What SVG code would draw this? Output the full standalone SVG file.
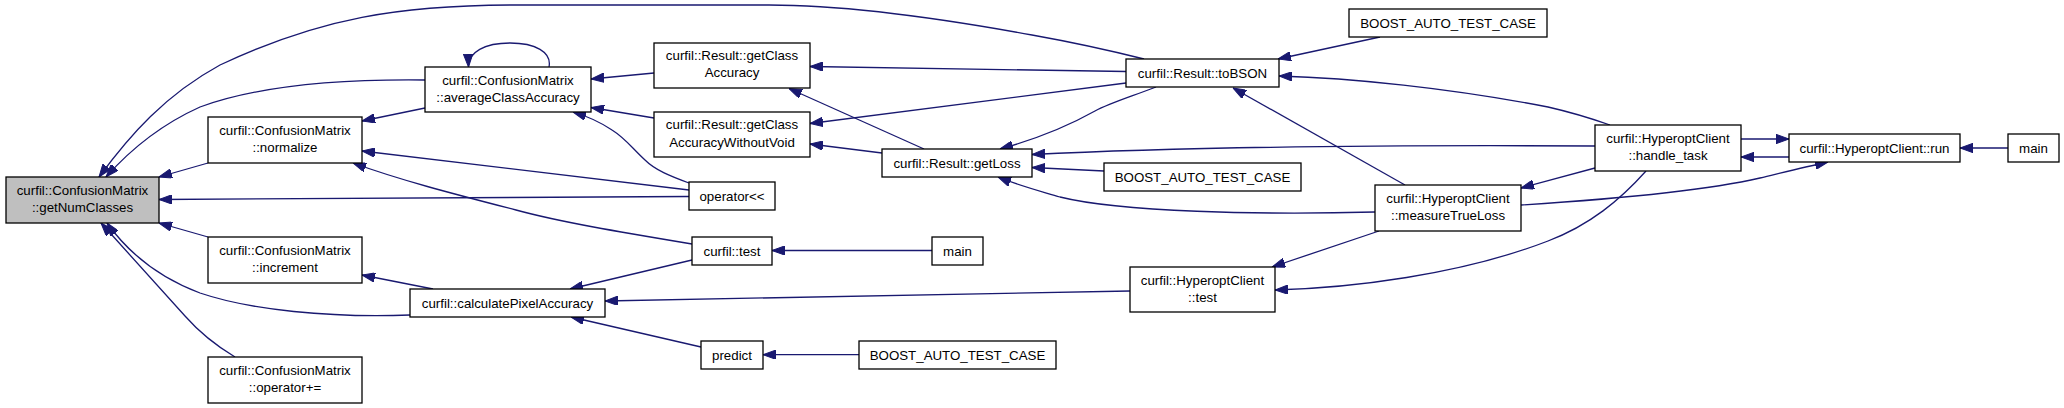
<svg xmlns="http://www.w3.org/2000/svg" width="2064" height="408" viewBox="0 0 2064 408">
<defs>
<style>
.n rect{fill:#ffffff;stroke:#000000;stroke-width:1.3}
.n.main rect{fill:#bfbfbf}
.n text{font-family:"Liberation Sans",Arial,sans-serif;font-size:13.3px;fill:#000000;text-anchor:middle}
.e path{fill:none;stroke:#191970;stroke-width:1.3;marker-end:url(#ah)}
</style>
<marker id="ah" viewBox="0 0 13 9.4" refX="13" refY="4.7" markerWidth="13" markerHeight="9.4" markerUnits="userSpaceOnUse" orient="auto">
<path d="M0,0 L13,4.7 L0,9.4 z" fill="#191970" stroke="#191970" stroke-width="1"/>
</marker>
</defs>
<rect x="0" y="0" width="2064" height="408" fill="#ffffff"/>
<g id="edges" class="e">
<path d="M1144,59 C1100,48 1060,40 1032,35 C950,20 850,5 769,5 L516,5 C400,5 320,18 220,65 C165,95 130,135 99,177"/>
<path d="M425,80 C340,79 260,85 200,107 C160,125 130,150 106,177"/>
<path d="M208,163 L159,177"/>
<path d="M689,196.5 L159,199.5"/>
<path d="M208,237 L159,223"/>
<path d="M410,315 C330,318 250,310 200,293 C160,278 130,255 107,223"/>
<path d="M235,357 C215,345 200,333 185,316 C160,288 130,255 101,223"/>
<path d="M425,108 L362,121"/>
<path d="M689,190 L362,151"/>
<path d="M692,244 C620,232 560,222 516,210 C450,193 400,180 353,163"/>
<path d="M654,73 L591,79"/>
<path d="M654,118 L591,107.5"/>
<path d="M689,183 C670,176 655,170 645,160 C632,148 625,138 612,130 C600,122 590,117 573,112"/>
<path d="M549,67 C552,52 535,43 510,43 C485,43 468,52 468.5,67"/>
<path d="M1126,71.5 C1000,70 900,67 810,66.5"/>
<path d="M924,149 L789,88.5"/>
<path d="M1126,83 L810,123.5"/>
<path d="M882,153 L810,144"/>
<path d="M1595,146 C1400,145 1200,146 1032,154.5"/>
<path d="M1104,171 L1032,167.5"/>
<path d="M1375,212 C1260,215 1120,212 1060,197 C1040,191 1020,186 998,177"/>
<path d="M1156,87 C1130,97 1110,103 1095,111 C1070,125 1040,138 1000,149"/>
<path d="M1380,37 L1278,59"/>
<path d="M1610,125 C1590,118 1570,112 1548,107 C1450,88 1350,78 1279,76"/>
<path d="M1405,185 L1233,88"/>
<path d="M1595,168 L1521,188"/>
<path d="M1521,205 C1600,200 1700,192 1760,178 C1785,172 1805,167 1828,162"/>
<path d="M1789,157 L1741,157"/>
<path d="M1741,139 L1789,139"/>
<path d="M2008,148 L1960,148"/>
<path d="M1646,171 C1620,200 1590,225 1548,241 C1460,275 1350,288 1275,290"/>
<path d="M1379,231 L1272,267"/>
<path d="M1130,291 L605,301"/>
<path d="M692,260 L570,289"/>
<path d="M701,347 L571,317"/>
<path d="M433,289 L362,275"/>
<path d="M932,250.5 L772,250.5"/>
<path d="M859,354.7 L763,354.7"/>
</g>
<g id="getNumClasses" class="n main"><rect x="6" y="177" width="153" height="46"/><text x="82.5" y="195">curfil::ConfusionMatrix</text><text x="82.5" y="212">::getNumClasses</text></g>
<g id="normalize" class="n"><rect x="208" y="117" width="154" height="46"/><text x="285" y="135">curfil::ConfusionMatrix</text><text x="285" y="152">::normalize</text></g>
<g id="increment" class="n"><rect x="208" y="237" width="154" height="46"/><text x="285" y="255">curfil::ConfusionMatrix</text><text x="285" y="272">::increment</text></g>
<g id="operatorPlusEq" class="n"><rect x="208" y="357" width="154" height="46"/><text x="285" y="375">curfil::ConfusionMatrix</text><text x="285" y="392">::operator+=</text></g>
<g id="averageClassAccuracy" class="n"><rect x="425" y="67" width="166" height="45"/><text x="508" y="84.5">curfil::ConfusionMatrix</text><text x="508" y="101.5">::averageClassAccuracy</text></g>
<g id="calculatePixelAccuracy" class="n"><rect x="410" y="289" width="195" height="28"/><text x="507.5" y="307.5">curfil::calculatePixelAccuracy</text></g>
<g id="getClassAccuracy" class="n"><rect x="654" y="43" width="156" height="45"/><text x="732" y="60">curfil::Result::getClass</text><text x="732" y="77">Accuracy</text></g>
<g id="getClassAccuracyWithoutVoid" class="n"><rect x="654" y="112" width="156" height="45"/><text x="732" y="129">curfil::Result::getClass</text><text x="732" y="146.5">AccuracyWithoutVoid</text></g>
<g id="operatorShl" class="n"><rect x="689" y="182" width="86" height="28"/><text x="732" y="200.5">operator&lt;&lt;</text></g>
<g id="curfilTest" class="n"><rect x="692" y="237" width="80" height="28"/><text x="732" y="255.5">curfil::test</text></g>
<g id="main1" class="n"><rect x="932" y="237" width="51" height="28"/><text x="957.5" y="255.5">main</text></g>
<g id="predict" class="n"><rect x="701" y="341" width="62" height="28"/><text x="732" y="359.5">predict</text></g>
<g id="boost3" class="n"><rect x="859" y="341" width="197" height="28"/><text x="957.5" y="359.5">BOOST_AUTO_TEST_CASE</text></g>
<g id="getLoss" class="n"><rect x="882" y="149" width="150" height="28"/><text x="957" y="167.5">curfil::Result::getLoss</text></g>
<g id="toBSON" class="n"><rect x="1126" y="59" width="153" height="28"/><text x="1202.5" y="78">curfil::Result::toBSON</text></g>
<g id="boost1" class="n"><rect x="1349" y="9" width="198" height="28"/><text x="1448" y="28">BOOST_AUTO_TEST_CASE</text></g>
<g id="boost2" class="n"><rect x="1104" y="163" width="197" height="28"/><text x="1202.5" y="182">BOOST_AUTO_TEST_CASE</text></g>
<g id="measureTrueLoss" class="n"><rect x="1375" y="185" width="146" height="46"/><text x="1448" y="203">curfil::HyperoptClient</text><text x="1448" y="220">::measureTrueLoss</text></g>
<g id="hocTest" class="n"><rect x="1130" y="267" width="145" height="45"/><text x="1202.5" y="284.5">curfil::HyperoptClient</text><text x="1202.5" y="301.5">::test</text></g>
<g id="handleTask" class="n"><rect x="1595" y="125" width="146" height="46"/><text x="1668" y="143">curfil::HyperoptClient</text><text x="1668" y="160">::handle_task</text></g>
<g id="run" class="n"><rect x="1789" y="134" width="171" height="28"/><text x="1874.5" y="152.5">curfil::HyperoptClient::run</text></g>
<g id="main2" class="n"><rect x="2008" y="134" width="51" height="28"/><text x="2033.5" y="152.5">main</text></g>
</svg>
